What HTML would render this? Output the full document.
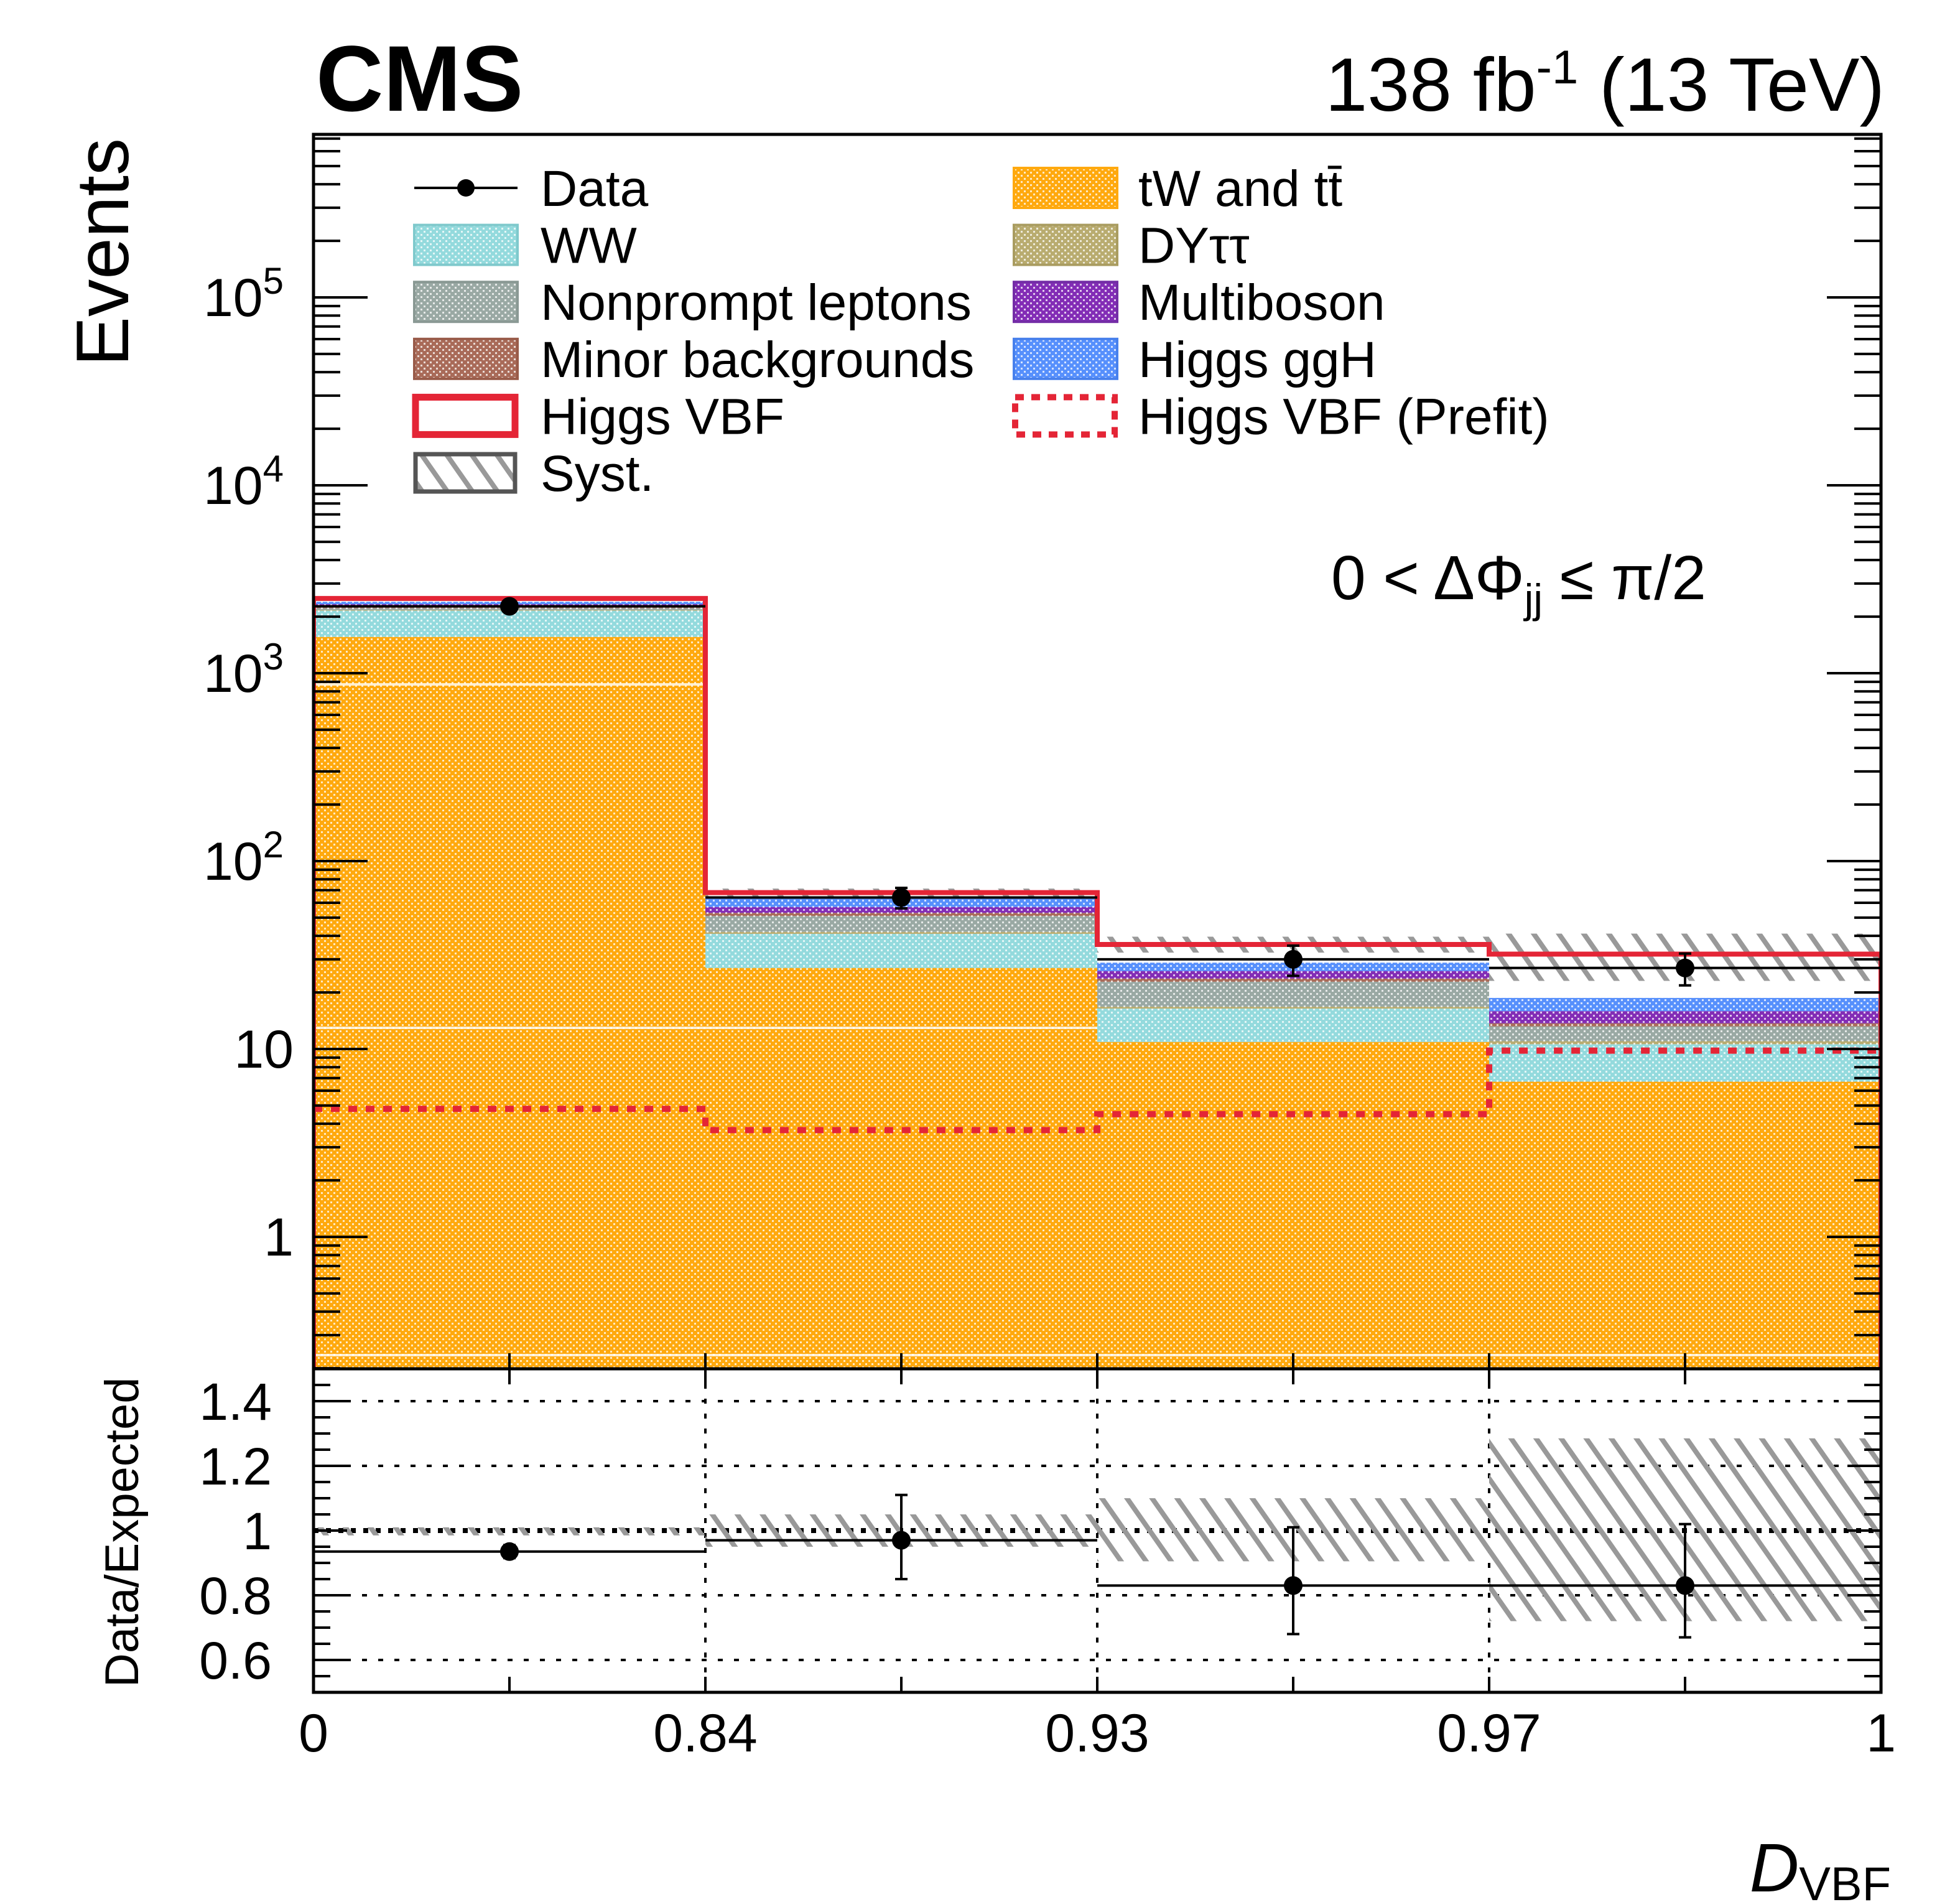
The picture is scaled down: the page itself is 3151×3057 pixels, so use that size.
<!DOCTYPE html>
<html><head><meta charset="utf-8">
<style>
html,body{margin:0;padding:0;background:#fff;}
svg{display:block;font-family:"Liberation Sans",sans-serif;}
</style></head>
<body>
<svg id="chart" width="3151" height="3057" viewBox="0 0 3151 3057" xmlns="http://www.w3.org/2000/svg">
<defs>
  <pattern id="p-tw" width="10" height="10" patternUnits="userSpaceOnUse"><rect width="10" height="10" fill="#ffa90e"/><rect x="1" y="1" width="3" height="3" fill="#fff" opacity="0.75"/><rect x="6" y="6" width="3" height="3" fill="#fff" opacity="0.75"/></pattern>
  <pattern id="p-ww" width="10" height="10" patternUnits="userSpaceOnUse"><rect width="10" height="10" fill="#94dadd"/><rect x="1" y="1" width="3" height="3" fill="#fff" opacity="0.75"/><rect x="6" y="6" width="3" height="3" fill="#fff" opacity="0.75"/></pattern>
  <pattern id="p-dy" width="10" height="10" patternUnits="userSpaceOnUse"><rect width="10" height="10" fill="#b9ac70"/><rect x="1" y="1" width="3" height="3" fill="#fff" opacity="0.75"/><rect x="6" y="6" width="3" height="3" fill="#fff" opacity="0.75"/></pattern>
  <pattern id="p-np" width="10" height="10" patternUnits="userSpaceOnUse"><rect width="10" height="10" fill="#9aa9a4"/><rect x="1" y="1" width="3" height="3" fill="#fff" opacity="0.75"/><rect x="6" y="6" width="3" height="3" fill="#fff" opacity="0.75"/></pattern>
  <pattern id="p-mi" width="10" height="10" patternUnits="userSpaceOnUse"><rect width="10" height="10" fill="#a96b59"/><rect x="1" y="1" width="3" height="3" fill="#fff" opacity="0.75"/><rect x="6" y="6" width="3" height="3" fill="#fff" opacity="0.75"/></pattern>
  <pattern id="p-mb" width="10" height="10" patternUnits="userSpaceOnUse"><rect width="10" height="10" fill="#832db6"/><rect x="1" y="1" width="3" height="3" fill="#fff" opacity="0.75"/><rect x="6" y="6" width="3" height="3" fill="#fff" opacity="0.75"/></pattern>
  <pattern id="p-gg" width="10" height="10" patternUnits="userSpaceOnUse"><rect width="10" height="10" fill="#5790fc"/><rect x="1" y="1" width="3" height="3" fill="#fff" opacity="0.75"/><rect x="6" y="6" width="3" height="3" fill="#fff" opacity="0.75"/></pattern>
  <pattern id="p-hatch" width="33" height="33" patternUnits="userSpaceOnUse" patternTransform="rotate(-35)"><rect width="33" height="33" fill="none"/><line x1="0" y1="0" x2="0" y2="33" stroke="#999" stroke-width="16"/></pattern>
  <clipPath id="clip-main"><rect x="504" y="216" width="2520" height="1984"/></clipPath>
  <clipPath id="clip-ratio"><rect x="504" y="2200" width="2520" height="520"/></clipPath>
</defs>
<g id="g-main" clip-path="url(#clip-main)"></g>
<g id="g-ratio" clip-path="url(#clip-ratio)"></g>
<g id="g-axes"></g>
<g id="g-legend"></g>

<text x="508" y="178" font-size="150" font-weight="bold">CMS</text>
<text x="3030" y="178" font-size="122" text-anchor="end">138 fb<tspan dy="-44" font-size="76">-1</tspan><tspan dy="44"> (13 TeV)</tspan></text>
<text transform="translate(206,222) rotate(-90)" font-size="120" text-anchor="end">Events</text>
<text transform="translate(222,2712) rotate(-90)" font-size="76">Data/Expected</text>
<text x="3040" y="3040" font-size="110" text-anchor="end"><tspan font-style="italic">D</tspan><tspan font-size="76" dy="14">VBF</tspan></text>
<text x="2140" y="963" font-size="100">0 &lt; ΔΦ<tspan font-size="66" dy="22">jj</tspan><tspan dy="-22"> ≤ π/2</tspan></text>

<script>
// ---- data ----
const binLabels = ["0", "0.84", "0.93", "0.97", "1"];
const tW        = [1560, 27, 10.9, 6.7];
const WW        = [590, 14, 5.5, 3.9];
const DY        = [20, 1, 0.4, 0.4];
const nonprompt = [50, 9, 6.0, 2.2];
const minorBkg  = [20, 2, 0.9, 0.5];
const multiboson= [90, 4, 2.3, 2.2];
const ggH       = [70, 6, 2.8, 2.8];
const VBF       = [100, 5, 7.2, 13.3];
const VBFprefit = [4.8, 3.7, 4.5, 9.8];
const dataVals  = [2270, 64, 30, 27];
const ratioVals = [0.935, 0.97, 0.83, 0.83];
const ratioErrUp= [0.02, 0.14, 0.18, 0.19];
const ratioErrDn= [0.02, 0.12, 0.15, 0.16];
const systUp    = [1.01, 1.05, 1.10, 1.285];
const systDn    = [0.985, 0.95, 0.905, 0.72];
const mainTickLabels = ["1", "10", "10^2", "10^3", "10^4", "10^5"];
const ratioTickLabels = ["0.6", "0.8", "1", "1.2", "1.4"];

// ---- scales ----
const X0 = 504, X1 = 3024, YT = 216, YB = 2200, RB = 2720;
const nb = binLabels.length - 1;
const xEdge = i => X0 + (X1 - X0) * i / nb;
const yMain = v => 1988 - 302 * Math.log10(v);
const yR = r => 2252 + (1.4 - r) * 520;
const NS = "http://www.w3.org/2000/svg";
function mk(tag, attrs, parent) {
  const e = document.createElementNS(NS, tag);
  for (const k in attrs) e.setAttribute(k, attrs[k]);
  parent.appendChild(e);
  return e;
}
const gM = document.getElementById("g-main");
const gR = document.getElementById("g-ratio");
const gA = document.getElementById("g-axes");
const gL = document.getElementById("g-legend");

// ---- stacked histogram ----
const comps = [
  ["tw", tW, "p-tw"], ["ww", WW, "p-ww"], ["dy", DY, "p-dy"], ["nonprompt", nonprompt, "p-np"],
  ["minor", minorBkg, "p-mi"], ["multiboson", multiboson, "p-mb"], ["ggh", ggH, "p-gg"]
];
const totals = [];
for (let b = 0; b < nb; b++) {
  let base = 0;
  for (const [nm, arr, pat] of comps) {
    const lo = base === 0 ? 0.2 : base;
    const hi = base + arr[b];
    const r = mk("rect", {x: xEdge(b), y: yMain(hi), width: xEdge(b+1) - xEdge(b), height: yMain(lo) - yMain(hi), fill: "url(#" + pat + ")"}, gM);
    
    
    base = hi;
  }
  totals.push(base + VBF[b]);
}
// white artifact lines
[[1100, 0, 1], [1652, 0, 2], [2178, 0, 4]].forEach(([y, a, bEnd]) => {
  const l = mk("line", {x1: xEdge(a), x2: xEdge(bEnd), y1: y, y2: y, stroke: "#fff", "stroke-width": 4, "stroke-opacity": 0.8}, gM);
  
  
});
// syst hatch in main
for (let b = 0; b < nb; b++) {
  const h = mk("rect", {x: xEdge(b), y: yMain(totals[b] * systUp[b]), width: xEdge(b+1) - xEdge(b), height: yMain(totals[b] * systDn[b]) - yMain(totals[b] * systUp[b]), fill: "url(#p-hatch)"}, gM);
  
  
}
// VBF outline (step)
let d = "M" + X0 + "," + YB;
for (let b = 0; b < nb; b++) d += " L" + xEdge(b) + "," + yMain(totals[b]) + " L" + xEdge(b+1) + "," + yMain(totals[b]);
d += " L" + X1 + "," + YB;
const vbfLine = mk("path", {d: d, fill: "none", stroke: "#e42536", "stroke-width": 8}, gM);


let dp = "";
for (let b = 0; b < nb; b++) dp += (b === 0 ? "M" : " L") + xEdge(b) + "," + yMain(VBFprefit[b]) + " L" + xEdge(b+1) + "," + yMain(VBFprefit[b]);
const preLine = mk("path", {d: dp, fill: "none", stroke: "#e42536", "stroke-width": 10, "stroke-dasharray": "14 14"}, gM);


// data points main
for (let b = 0; b < nb; b++) {
  const cx = (xEdge(b) + xEdge(b+1)) / 2, v = dataVals[b], e = Math.sqrt(v);
  const g = mk("g", {}, gM);
  
  
  mk("line", {x1: xEdge(b), x2: xEdge(b+1), y1: yMain(v), y2: yMain(v), stroke: "#000", "stroke-width": 4}, g);
  mk("line", {x1: cx, x2: cx, y1: yMain(v + e), y2: yMain(Math.max(v - e, 0.2)), stroke: "#000", "stroke-width": 4}, g);
  mk("line", {x1: cx - 10, x2: cx + 10, y1: yMain(v + e), y2: yMain(v + e), stroke: "#000", "stroke-width": 4}, g);
  mk("line", {x1: cx - 10, x2: cx + 10, y1: yMain(v - e), y2: yMain(v - e), stroke: "#000", "stroke-width": 4}, g);
  mk("circle", {cx: cx, cy: yMain(v), r: 15, fill: "#000"}, g);
}

// ---- ratio ----
ratioTickLabels.forEach(t => {
  const r = parseFloat(t);
  const gl = mk("line", {x1: X0, x2: X1, y1: yR(r), y2: yR(r), stroke: "#000", "stroke-width": r === 1 ? 8 : 4, "stroke-dasharray": r === 1 ? "8 12" : "8 18"}, gR);
  
  
});
for (let i = 1; i < nb; i++) {
  const vl = mk("line", {x1: xEdge(i), x2: xEdge(i), y1: YB, y2: RB, stroke: "#000", "stroke-width": 4, "stroke-dasharray": "8 16"}, gR);
  
  
}
for (let b = 0; b < nb; b++) {
  const h = mk("rect", {x: xEdge(b), y: yR(systUp[b]), width: xEdge(b+1) - xEdge(b), height: yR(systDn[b]) - yR(systUp[b]), fill: "url(#p-hatch)"}, gR);
  
  
}
for (let b = 0; b < nb; b++) {
  const cx = (xEdge(b) + xEdge(b+1)) / 2, v = ratioVals[b];
  const g = mk("g", {}, gR);
  
  
  mk("line", {x1: xEdge(b), x2: xEdge(b+1), y1: yR(v), y2: yR(v), stroke: "#000", "stroke-width": 4}, g);
  const yu = yR(v + ratioErrUp[b]), yd = yR(v - ratioErrDn[b]);
  mk("line", {x1: cx, x2: cx, y1: yu, y2: yd, stroke: "#000", "stroke-width": 4}, g);
  mk("line", {x1: cx - 10, x2: cx + 10, y1: yu, y2: yu, stroke: "#000", "stroke-width": 4}, g);
  mk("line", {x1: cx - 10, x2: cx + 10, y1: yd, y2: yd, stroke: "#000", "stroke-width": 4}, g);
  mk("circle", {cx: cx, cy: yR(v), r: 15, fill: "#000"}, g);
}

// ---- axes ----
function frame(y0, y1, nm) {
  const f = mk("rect", {x: X0, y: y0, width: X1 - X0, height: y1 - y0, fill: "none", stroke: "#000", "stroke-width": 5}, gA);
  
  
}
frame(YT, YB, "main-frame");
frame(YB, RB, "ratio-frame");
for (let e = -1; e <= 5; e++) {
  for (let m = 1; m <= 9; m++) {
    const v = m * Math.pow(10, e);
    const y = yMain(v);
    if (y < YT || y > YB) continue;
    const len = m === 1 ? 87 : 43;
    mk("line", {x1: X0, x2: X0 + len, y1: y, y2: y, stroke: "#000", "stroke-width": 4}, gA);
    mk("line", {x1: X1, x2: X1 - len, y1: y, y2: y, stroke: "#000", "stroke-width": 4}, gA);
  }
}
mainTickLabels.forEach((t, i) => {
  const y = yMain(Math.pow(10, i));
  const tx = mk("text", {x: 472, y: y + 30, "font-size": 86, "text-anchor": "end"}, gA);
  
  
  if (t.indexOf("^") >= 0) {
    const [b, p] = t.split("^");
    tx.setAttribute("x", 456);
    tx.textContent = b;
    const s = mk("tspan", {dy: -36, "font-size": 60}, tx);
    s.textContent = p;
  } else tx.textContent = t;
});
for (let k = 0; k <= 20; k++) {
  const r = 0.5 + k * 0.05;
  const y = yR(r);
  if (y < YB + 2 || y > RB - 2) continue;
  const q = Math.round(r * 100);
  const major = q % 20 === 0;
  const len = major ? 54 : 27;
  mk("line", {x1: X0, x2: X0 + len, y1: y, y2: y, stroke: "#000", "stroke-width": 4}, gA);
  mk("line", {x1: X1, x2: X1 - len, y1: y, y2: y, stroke: "#000", "stroke-width": 4}, gA);
}
ratioTickLabels.forEach(t => {
  const tx = mk("text", {x: 437, y: yR(parseFloat(t)) + 30, "font-size": 84, "text-anchor": "end"}, gA);
  
  
  tx.textContent = t;
});
for (let i = 0; i <= 2 * nb; i++) {
  const x = X0 + (X1 - X0) * i / (2 * nb);
  mk("line", {x1: x, x2: x, y1: RB, y2: RB - 25, stroke: "#000", "stroke-width": 4}, gA);
  mk("line", {x1: x, x2: x, y1: YB, y2: YB + 25, stroke: "#000", "stroke-width": 4}, gA);
  mk("line", {x1: x, x2: x, y1: YB, y2: YB - 25, stroke: "#000", "stroke-width": 4}, gA);
}
binLabels.forEach((t, i) => {
  const tx = mk("text", {x: xEdge(i), y: 2815, "font-size": 86, "text-anchor": "middle"}, gA);
  
  
  tx.textContent = t;
});

// ---- legend ----
const legL = [["Data", "data"], ["WW", "p-ww"], ["Nonprompt leptons", "p-np"], ["Minor backgrounds", "p-mi"], ["Higgs VBF", "vbf"], ["Syst.", "syst"]];
const legR = [["tW and tt\u0304", "p-tw"], ["DYττ", "p-dy"], ["Multiboson", "p-mb"], ["Higgs ggH", "p-gg"], ["Higgs VBF (Prefit)", "pre"]];
const border = {"p-ww": "#7fc9cc", "p-np": "#8a9994", "p-mi": "#995b49", "p-tw": "#ffa90e", "p-dy": "#a99c60", "p-mb": "#732da6", "p-gg": "#4780ec"};
function legEntry(label, kind, sx, tx, y) {
  const g = mk("g", {}, gL);
  
  
  if (kind === "data") {
    mk("line", {x1: sx, x2: sx + 166, y1: y, y2: y, stroke: "#000", "stroke-width": 4}, g);
    mk("circle", {cx: sx + 83, cy: y, r: 14, fill: "#000"}, g);
  } else if (kind === "vbf") {
    mk("rect", {x: sx + 2, y: y - 30, width: 160, height: 60, fill: "#fff", stroke: "#e42536", "stroke-width": 11}, g);
  } else if (kind === "pre") {
    mk("rect", {x: sx + 2, y: y - 30, width: 160, height: 60, fill: "#fff", stroke: "#e42536", "stroke-width": 10, "stroke-dasharray": "14 12"}, g);
  } else if (kind === "syst") {
    mk("rect", {x: sx + 2, y: y - 30, width: 160, height: 60, fill: "url(#p-hatch)", stroke: "#555", "stroke-width": 7}, g);
  } else {
    mk("rect", {x: sx, y: y - 32, width: 166, height: 64, fill: "url(#" + kind + ")", stroke: border[kind], "stroke-width": 4}, g);
  }
  const t = mk("text", {x: tx, y: y + 29, "font-size": 82}, g);
  t.textContent = label;
}
legL.forEach((e, i) => legEntry(e[0], e[1], 666, 869, 302 + i * 91.6));
legR.forEach((e, i) => legEntry(e[0], e[1], 1630, 1830, 302 + i * 91.6));
</script>
</svg>
</body></html>
